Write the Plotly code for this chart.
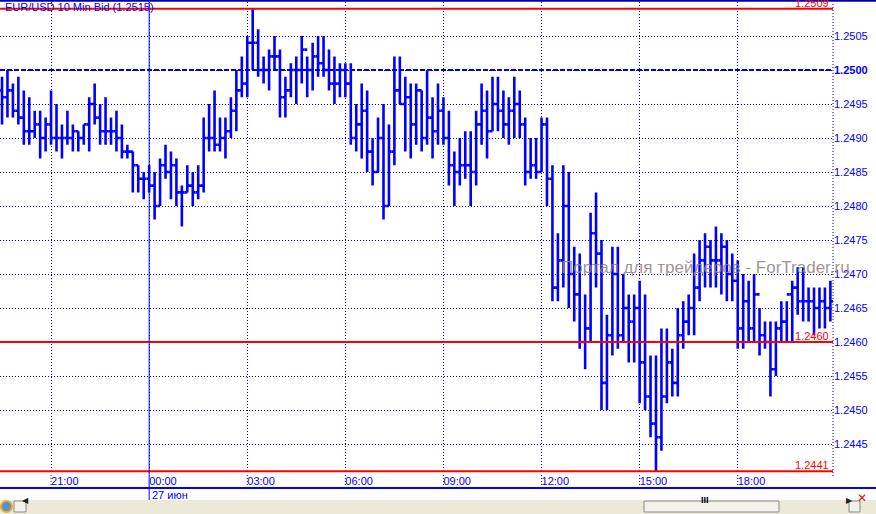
import plotly.graph_objects as go
import pandas as pd

# ---------------- data ----------------
START = "2012-06-26 19:30"
N_BARS = 153
times = pd.date_range(START, periods=N_BARS, freq="10min")

high = [1.2499, 1.2500, 1.2498, 1.2499, 1.2497, 1.2496, 1.2494, 1.2494, 1.2493, 1.2497,
        1.2495, 1.2492, 1.2494, 1.2492, 1.2491, 1.2492, 1.2496, 1.2498, 1.2495, 1.2496,
        1.2493, 1.2494, 1.2492, 1.2489, 1.2488, 1.2486, 1.2485, 1.2486, 1.2485, 1.2487,
        1.2489, 1.2488, 1.2487, 1.2483, 1.2486, 1.2485, 1.2486, 1.2493, 1.2495, 1.2497,
        1.2493, 1.2493, 1.2496, 1.2500, 1.2502, 1.2505, 1.2509, 1.2506, 1.2502, 1.2503,
        1.2505, 1.2503, 1.2499, 1.2501, 1.2502, 1.2505, 1.2502, 1.2504, 1.2505, 1.2505,
        1.2503, 1.2502, 1.2501, 1.2501, 1.2501, 1.2495, 1.2498, 1.2497, 1.2490, 1.2493,
        1.2495, 1.2492, 1.2502, 1.2502, 1.2499, 1.2498, 1.2498, 1.2497, 1.2500, 1.2496,
        1.2498, 1.2496, 1.2494, 1.2488, 1.2490, 1.2491, 1.2491, 1.2494, 1.2498, 1.2497,
        1.2499, 1.2499, 1.2497, 1.2496, 1.2499, 1.2497, 1.2493, 1.2490, 1.2490, 1.2493,
        1.2493, 1.2486, 1.2476, 1.2486, 1.2485, 1.2474, 1.2473, 1.2467, 1.2479, 1.2482,
        1.2475, 1.2464, 1.2474, 1.2474, 1.2470, 1.2467, 1.2467, 1.2469, 1.2467, 1.2458,
        1.2458, 1.2462, 1.2462, 1.2459, 1.2465, 1.2466, 1.2467, 1.2473, 1.2475, 1.2476,
        1.2475, 1.2477, 1.2476, 1.2475, 1.2473, 1.2472, 1.2470, 1.2469, 1.2470, 1.2465,
        1.2463, 1.2463, 1.2463, 1.2466, 1.2466, 1.2469, 1.2471, 1.2471, 1.2468, 1.2468,
        1.2468, 1.2468, 1.2469]

low = [1.2492, 1.2493, 1.2493, 1.2492, 1.2489, 1.2489, 1.2490, 1.2487, 1.2488, 1.2489,
       1.2488, 1.2487, 1.2489, 1.2488, 1.2488, 1.2489, 1.2488, 1.2492, 1.2489, 1.2489,
       1.2489, 1.2488, 1.2487, 1.2487, 1.2482, 1.2482, 1.2481, 1.2482, 1.2478, 1.2480,
       1.2484, 1.2481, 1.2480, 1.2477, 1.2482, 1.2480, 1.2481, 1.2482, 1.2488, 1.2488,
       1.2488, 1.2487, 1.2490, 1.2491, 1.2496, 1.2496, 1.2500, 1.2499, 1.2498, 1.2497,
       1.2500, 1.2493, 1.2493, 1.2496, 1.2495, 1.2498, 1.2496, 1.2497, 1.2499, 1.2499,
       1.2497, 1.2495, 1.2496, 1.2496, 1.2489, 1.2488, 1.2487, 1.2485, 1.2483, 1.2485,
       1.2478, 1.2480, 1.2486, 1.2495, 1.2488, 1.2487, 1.2489, 1.2488, 1.2489, 1.2487,
       1.2489, 1.2489, 1.2483, 1.2480, 1.2483, 1.2484, 1.2480, 1.2483, 1.2489, 1.2487,
       1.2491, 1.2491, 1.2490, 1.2489, 1.2490, 1.2490, 1.2483, 1.2484, 1.2484, 1.2485,
       1.2480, 1.2466, 1.2466, 1.2468, 1.2465, 1.2463, 1.2459, 1.2456, 1.2460, 1.2468,
       1.2450, 1.2450, 1.2458, 1.2459, 1.2460, 1.2457, 1.2457, 1.2451, 1.2450, 1.2446,
       1.2441, 1.2444, 1.2451, 1.2452, 1.2452, 1.2459, 1.2461, 1.2461, 1.2466, 1.2468,
       1.2468, 1.2468, 1.2467, 1.2466, 1.2466, 1.2459, 1.2459, 1.2460, 1.2460, 1.2458,
       1.2459, 1.2452, 1.2455, 1.2460, 1.2460, 1.2460, 1.2464, 1.2463, 1.2463, 1.2461,
       1.2462, 1.2462, 1.2463]

open_ = [1.2497, 1.2496, 1.2497, 1.2494, 1.2493, 1.2491, 1.2491, 1.2492, 1.2490, 1.2492,
         1.2490, 1.2490, 1.2490, 1.2490, 1.2491, 1.2490, 1.2492, 1.2495, 1.2493, 1.2491,
         1.2491, 1.2491, 1.2490, 1.2488, 1.2488, 1.2486, 1.2484, 1.2484, 1.2483, 1.2480,
         1.2486, 1.2485, 1.2486, 1.2482, 1.2482, 1.2483, 1.2482, 1.2483, 1.2490, 1.2490,
         1.2489, 1.2490, 1.2491, 1.2494, 1.2497, 1.2498, 1.2504, 1.2504, 1.2500, 1.2500,
         1.2502, 1.2502, 1.2496, 1.2497, 1.2500, 1.2500, 1.2503, 1.2500, 1.2502, 1.2501,
         1.2500, 1.2498, 1.2498, 1.2500, 1.2498, 1.2490, 1.2492, 1.2494, 1.2488, 1.2485,
         1.2490, 1.2480, 1.2488, 1.2497, 1.2495, 1.2496, 1.2492, 1.2497, 1.2490, 1.2493,
         1.2491, 1.2494, 1.2490, 1.2486, 1.2485, 1.2486, 1.2486, 1.2485, 1.2492, 1.2494,
         1.2491, 1.2495, 1.2494, 1.2492, 1.2494, 1.2495, 1.2492, 1.2485, 1.2486, 1.2485,
         1.2492, 1.2484, 1.2468, 1.2472, 1.2480, 1.2470, 1.2467, 1.2460, 1.2462, 1.2476,
         1.2473, 1.2454, 1.2461, 1.2470, 1.2461, 1.2465, 1.2463, 1.2465, 1.2457, 1.2452,
         1.2448, 1.2446, 1.2452, 1.2457, 1.2454, 1.2461, 1.2463, 1.2465, 1.2468, 1.2472,
         1.2474, 1.2472, 1.2472, 1.2474, 1.2470, 1.2469, 1.2462, 1.2466, 1.2462, 1.2467,
         1.2461, 1.2460, 1.2456, 1.2462, 1.2463, 1.2467, 1.2468, 1.2466, 1.2466, 1.2466,
         1.2465, 1.2466, 1.2465]

close = [1.2496, 1.2497, 1.2494, 1.2493, 1.2491, 1.2491, 1.2492, 1.2490, 1.2492, 1.2490,
         1.2490, 1.2490, 1.2490, 1.2491, 1.2490, 1.2492, 1.2495, 1.2493, 1.2491, 1.2491,
         1.2491, 1.2490, 1.2488, 1.2488, 1.2486, 1.2484, 1.2484, 1.2483, 1.2480, 1.2486,
         1.2485, 1.2486, 1.2482, 1.2482, 1.2483, 1.2482, 1.2483, 1.2490, 1.2490, 1.2489,
         1.2490, 1.2491, 1.2494, 1.2497, 1.2498, 1.2504, 1.2504, 1.2500, 1.2500, 1.2502,
         1.2502, 1.2496, 1.2497, 1.2500, 1.2500, 1.2503, 1.2500, 1.2502, 1.2501, 1.2500,
         1.2498, 1.2498, 1.2500, 1.2498, 1.2490, 1.2492, 1.2494, 1.2488, 1.2485, 1.2490,
         1.2480, 1.2488, 1.2497, 1.2495, 1.2496, 1.2492, 1.2497, 1.2490, 1.2493, 1.2491,
         1.2494, 1.2490, 1.2486, 1.2485, 1.2486, 1.2486, 1.2485, 1.2492, 1.2494, 1.2491,
         1.2495, 1.2494, 1.2492, 1.2494, 1.2495, 1.2492, 1.2485, 1.2486, 1.2485, 1.2492,
         1.2484, 1.2468, 1.2472, 1.2480, 1.2470, 1.2467, 1.2460, 1.2462, 1.2476, 1.2473,
         1.2454, 1.2461, 1.2470, 1.2461, 1.2465, 1.2463, 1.2465, 1.2457, 1.2452, 1.2448,
         1.2446, 1.2452, 1.2457, 1.2454, 1.2461, 1.2463, 1.2465, 1.2468, 1.2472, 1.2474,
         1.2472, 1.2472, 1.2474, 1.2470, 1.2469, 1.2462, 1.2466, 1.2462, 1.2467, 1.2461,
         1.2460, 1.2456, 1.2462, 1.2463, 1.2467, 1.2468, 1.2466, 1.2466, 1.2466, 1.2465,
         1.2466, 1.2465, 1.2466]

level_values = [1.2509, 1.2460, 1.2441]
level_labels = ["1.2509", "1.2460", "1.2441"]
round_level = 1.2500

y_tickvals = [1.2445, 1.2450, 1.2455, 1.2460, 1.2465, 1.2470, 1.2475,
              1.2480, 1.2485, 1.2490, 1.2495, 1.2500, 1.2505]
y_ticktext = ["1.2445", "1.2450", "1.2455", "1.2460", "1.2465", "1.2470", "1.2475",
              "1.2480", "1.2485", "1.2490", "1.2495", "<b>1.2500</b>", "1.2505"]
x_tick_times = ["2012-06-26 21:00", "2012-06-27 00:00", "2012-06-27 03:00",
                "2012-06-27 06:00", "2012-06-27 09:00", "2012-06-27 12:00",
                "2012-06-27 15:00", "2012-06-27 18:00"]
x_tick_labels = ["21:00", "00:00", "03:00", "06:00", "09:00", "12:00", "15:00", "18:00"]
day_sep = "2012-06-27 00:00"
day_label = "27 июн"
title_text = "EUR/USD 10 Min Bid (1.2515)"
watermark = "Портал для трейдеров - ForTrader.ru"

# ---------------- style ----------------
W, H = 876, 514
ML, MR, MT, MB = 0, 43, 2, 41
PW, PH = W - ML - MR, H - MT - MB
BAR = "#0000FF"
GRID = "#0000B4"
TXT = "#0000FF"
RED = "#FF0000"
FONT = "Liberation Sans"
DOT = "1px,2px"


def px(X):
    return (X - ML) / PW


def py(Y):
    return (MT + PH - Y) / PH


t0 = pd.Timestamp(START)
step = pd.Timedelta(minutes=10)
x_range = [t0 - step * 0.37, t0 + step * 152.48]

fig = go.Figure(go.Ohlc(
    x=times, open=open_, high=high, low=low, close=close,
    increasing=dict(line=dict(color=BAR, width=2.6)),
    decreasing=dict(line=dict(color=BAR, width=2.6)),
    tickwidth=0.5, hoverinfo="none", showlegend=False,
))

shapes = []
annotations = []

# round level dashed line
shapes.append(dict(type="line", xref="paper", yref="y", x0=0, x1=1,
                   y0=round_level, y1=round_level,
                   line=dict(color="#0000E0", width=2, dash="5px,2px")))
# red level lines + labels
for v, lab in zip(level_values, level_labels):
    shapes.append(dict(type="line", xref="paper", yref="y", x0=0, x1=1, y0=v, y1=v,
                       line=dict(color=RED, width=2)))
    annotations.append(dict(text=lab, xref="paper", yref="y", x=1, y=v,
                            xanchor="right", yanchor="bottom", xshift=-2, yshift=-2,
                            showarrow=False, font=dict(family=FONT, size=11, color=RED)))

# day separator
shapes.append(dict(type="line", xref="x", yref="paper", x0=day_sep, x1=day_sep,
                   y0=py(500), y1=1, line=dict(color=BAR, width=1)))
# grid extensions below plot
for t in x_tick_times:
    if t != day_sep:
        shapes.append(dict(type="line", xref="x", yref="paper", x0=t, x1=t,
                           y0=py(488), y1=0, line=dict(color=GRID, width=1, dash=DOT)))
# right dotted axis line
shapes.append(dict(type="line", xref="paper", yref="paper", x0=1, x1=1,
                   y0=py(476), y1=1, line=dict(color=GRID, width=1, dash=DOT)))
# bottom blue line
shapes.append(dict(type="line", xref="paper", yref="paper", x0=0, x1=px(W),
                   y0=py(488), y1=py(488), line=dict(color=BAR, width=2)))
# top frame line
shapes.append(dict(type="line", xref="paper", yref="paper", x0=0, x1=px(W),
                   y0=py(0.8), y1=py(0.8), line=dict(color="#0000A8", width=2)))

# scrollbar area
shapes.append(dict(type="rect", xref="paper", yref="paper", x0=0, x1=px(W),
                   y0=py(514), y1=py(500), fillcolor="#ECE9D8", line=dict(width=0), layer="above"))
shapes.append(dict(type="rect", xref="paper", yref="paper", x0=px(644), x1=px(779),
                   y0=py(512), y1=py(501), fillcolor="#F2F1EA",
                   line=dict(color="#8A8A8A", width=1), layer="above"))
shapes.append(dict(type="rect", xref="paper", yref="paper", x0=px(14), x1=px(26),
                   y0=py(512), y1=py(501), fillcolor="#F2F1EA",
                   line=dict(color="#8A8A8A", width=1), layer="above"))
shapes.append(dict(type="rect", xref="paper", yref="paper", x0=px(849), x1=px(860),
                   y0=py(512), y1=py(501), fillcolor="#F2F1EA",
                   line=dict(color="#8A8A8A", width=1), layer="above"))
shapes.append(dict(type="circle", xref="paper", yref="paper", x0=px(1), x1=px(12),
                   y0=py(512), y1=py(501), fillcolor="#5A8FD0",
                   line=dict(color="#E0B030", width=2), layer="above"))
annotations += [
    dict(text="◀", xref="paper", yref="paper", x=px(20), y=py(506.5), showarrow=False,
         font=dict(size=8, color="#202020", family="DejaVu Sans")),
    dict(text="▶", xref="paper", yref="paper", x=px(854.5), y=py(506.5), showarrow=False,
         font=dict(size=8, color="#202020", family="DejaVu Sans")),
    dict(text="<b>III</b>", xref="paper", yref="paper", x=px(711), y=py(506.5), showarrow=False,
         font=dict(size=9, color="#000000", family=FONT)),
    dict(text="<b>✕</b>", xref="paper", yref="paper", x=px(869), y=py(506.5), showarrow=False,
         font=dict(size=12, color="#D01010", family="DejaVu Sans")),
]

# title, date label, watermark
annotations.append(dict(text=title_text, xref="paper", yref="paper", x=px(3), y=py(7.5),
                        xanchor="left", yanchor="middle", showarrow=False,
                        font=dict(family=FONT, size=11, color=TXT)))
annotations.append(dict(text=day_label, xref="x", yref="paper", x=day_sep, y=py(494.5),
                        xanchor="left", yanchor="middle", xshift=1, showarrow=False,
                        font=dict(family=FONT, size=11, color=TXT)))
annotations.append(dict(text=watermark, xref="paper", yref="y", x=px(559), y=1.24710,
                        xanchor="left", yanchor="middle", showarrow=False,
                        font=dict(family=FONT, size=17, color="rgba(140,130,130,0.85)")))

fig.update_layout(
    width=W, height=H,
    margin=dict(l=ML, r=MR, t=MT, b=MB, pad=0),
    paper_bgcolor="white", plot_bgcolor="white",
    showlegend=False,
    shapes=shapes, annotations=annotations,
    xaxis=dict(
        type="date", range=x_range, rangeslider=dict(visible=False),
        tickvals=x_tick_times, ticktext=x_tick_labels,
        ticklabelposition="outside right",
        showgrid=True, gridcolor=GRID, gridwidth=1, griddash=DOT,
        zeroline=False, showline=False, ticks="",
        tickfont=dict(family=FONT, size=11, color=TXT), automargin=False,
        fixedrange=True,
    ),
    yaxis=dict(
        side="right", range=[1.244074, 1.2510],
        tickvals=y_tickvals, ticktext=y_ticktext,
        showgrid=True, gridcolor=GRID, gridwidth=1, griddash=DOT,
        zeroline=False, showline=False, ticks="",
        tickfont=dict(family=FONT, size=11, color=TXT), automargin=False,
        fixedrange=True,
    ),
)

fig.write_html(
    "out.html",
    config={"displayModeBar": False},
    post_script="document.body.style.margin='0';document.body.style.padding='0';",
)
